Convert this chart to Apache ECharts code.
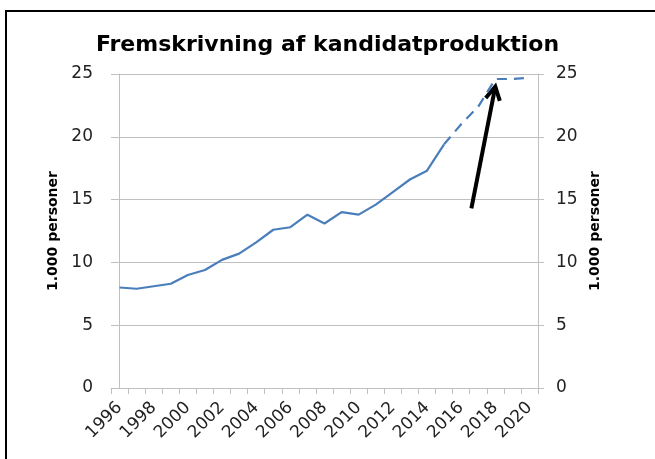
<!DOCTYPE html>
<html>
<head>
<meta charset="utf-8">
<script src="https://cdn.jsdelivr.net/npm/echarts@6/dist/echarts.min.js"></script>
<style>
    html,body{margin:0;padding:0;background:#fff;}
    #chart{width:655px;height:459px;position:relative;}
    .frame{position:absolute;left:5px;top:10px;right:-10px;bottom:-10px;border:2px solid #000;pointer-events:none;}
</style>
</head>
<body>
<div id="chart"></div>
<div class="frame"></div>
<script>
// årstal 1996-2020
const years = ['1996','1997','1998','1999','2000','2001','2002','2003','2004','2005','2006','2007','2008','2009','2010','2011','2012','2013','2014','2015','2016','2017','2018','2019','2020'];
// faktisk produktion (1.000 personer)
const actual = [8.0, 7.9, 8.1, 8.3, 9.0, 9.4, 10.2, 10.7, 11.6, 12.6, 12.8, 13.8, 13.1, 14.0, 13.8, 14.6, 15.6, 16.6, 17.3, 19.4];
// fremskrivning
const forecast = [null, null, null, null, null, null, null, null, null, null, null, null, null, null, null, null, null, null, null, 19.4, 21.0, 22.4, 24.6, 24.6, 24.7];
// pil: [x-indeks, værdi] for hale og spids
const arrowTail = [20.6, 14.3];
const arrowTip = [22.0, 24.0];

const font = 'DejaVu Sans';
const gray = '#c0c0c0';

var myChart = echarts.init(document.getElementById('chart'));
myChart.setOption({
    animation: false,
    title: {
        text: 'Fremskrivning af kandidatproduktion',
        left: 'center',
        top: 29,
        textStyle: { fontFamily: font, fontSize: 22, fontWeight: 'bold', color: '#000' }
    },
    grid: { left: 111, right: 117, top: 74, bottom: 71 },
    xAxis: [{
        type: 'category',
        data: years,
        boundaryGap: true,
        axisLine: { lineStyle: { color: gray, width: 1 } },
        axisTick: { show: true, interval: 0, length: 6, lineStyle: { color: gray } },
        axisLabel: { interval: 1, rotate: 45, margin: 17, fontFamily: font, fontSize: 17, color: '#222' },
        splitLine: { show: false }
    }, {
        // skjult akse til pilen
        type: 'value',
        min: -0.5,
        max: 24.5,
        show: false
    }],
    yAxis: [{
        type: 'value',
        min: 0, max: 25, interval: 5,
        position: 'left',
        name: '1.000 personer',
        nameLocation: 'middle',
        nameGap: 45,
        nameTextStyle: { fontFamily: font, fontSize: 14, fontWeight: 'bold', color: '#000' },
        axisLine: { show: true, lineStyle: { color: gray } },
        axisTick: { show: true, length: 6, lineStyle: { color: gray } },
        axisLabel: { margin: 18, fontFamily: font, fontSize: 17, color: '#222' },
        splitLine: { show: true, lineStyle: { color: gray } }
    }, {
        type: 'value',
        min: 0, max: 25, interval: 5,
        position: 'right',
        name: '1.000 personer',
        nameLocation: 'middle',
        nameGap: 50,
        nameTextStyle: { fontFamily: font, fontSize: 14, fontWeight: 'bold', color: '#000' },
        axisLine: { show: true, lineStyle: { color: gray } },
        axisTick: { show: true, length: 6, lineStyle: { color: gray } },
        axisLabel: { margin: 18, fontFamily: font, fontSize: 17, color: '#222' },
        splitLine: { show: false }
    }],
    series: [{
        type: 'line',
        data: actual,
        showSymbol: false,
        lineStyle: { color: '#4a7ebb', width: 2.2 }
    }, {
        type: 'line',
        data: forecast,
        showSymbol: false,
        lineStyle: { color: '#4a7ebb', width: 2.2, type: [10, 7] }
    }, {
        type: 'custom',
        xAxisIndex: 1,
        yAxisIndex: 0,
        data: [[arrowTail[0], arrowTail[1], arrowTip[0], arrowTip[1]]],
        encode: { x: [0, 2], y: [1, 3] },
        renderItem: function (params, api) {
            var p1 = api.coord([api.value(0), api.value(1)]);
            var p2 = api.coord([api.value(2), api.value(3)]);
            var ang = Math.atan2(p2[1] - p1[1], p2[0] - p1[0]);
            var len = 15, spread = 0.5;
            var a1 = [p2[0] - len * Math.cos(ang - spread), p2[1] - len * Math.sin(ang - spread)];
            var a2 = [p2[0] - len * Math.cos(ang + spread), p2[1] - len * Math.sin(ang + spread)];
            var st = { stroke: '#000', lineWidth: 4, fill: null, lineCap: 'butt', lineJoin: 'miter' };
            return {
                type: 'group',
                children: [
                    { type: 'line', shape: { x1: p1[0], y1: p1[1], x2: p2[0], y2: p2[1] }, style: st },
                    { type: 'polyline', shape: { points: [a1, p2, a2] }, style: st }
                ]
            };
        }
    }]
});
</script>
</body>
</html>
